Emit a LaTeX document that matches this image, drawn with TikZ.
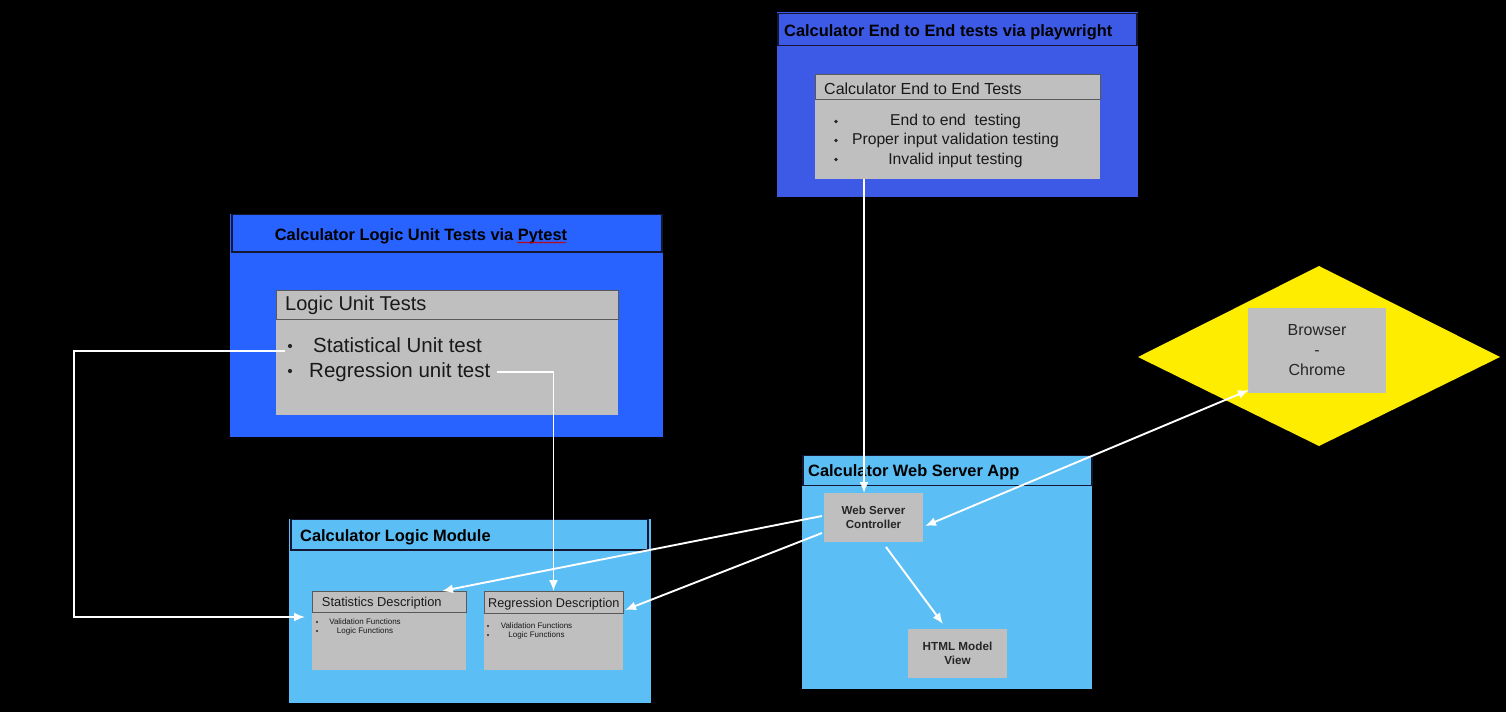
\documentclass[tikz,border=0pt]{standalone}
\usepackage{fontspec}
\setmainfont{Liberation Sans}
\usetikzlibrary{arrows.meta,decorations.pathmorphing}

\definecolor{eeblue}{RGB}{61,90,230}
\definecolor{unitblue}{RGB}{40,98,255}
\definecolor{appblue}{RGB}{91,190,245}
\definecolor{boxgray}{RGB}{191,191,191}
\definecolor{diayellow}{RGB}{255,237,0}
\definecolor{barline}{RGB}{20,22,50}

\tikzset{
  panel/.style={anchor=north west,inner sep=0pt,outer sep=0pt},
  titlebar/.style={panel,draw=barline,line width=1.5pt},
  graybox/.style={panel,fill=boxgray},
  grayhead/.style={panel,fill=boxgray,draw=black!65,line width=0.8pt},
  titletext/.style={anchor=base west,inner sep=0pt,font=\bfseries\fontsize{16.4}{20}\selectfont},
  bodytext/.style={anchor=base west,inner sep=0pt,text=black!90},
  bulletdot/.style={circle,fill=black!85,inner sep=0pt,minimum size=#1},
  bulletdot/.default=3.8pt,
  tip/.style={Latex[length=11pt,width=9pt]},
  wire/.style={white,line width=1.9pt,-{Latex[length=11pt,width=9pt]}},
}

\begin{document}
\begin{tikzpicture}[x=1pt,y=-1pt]
% Hintergrund
\fill[black] (0,0) rectangle (1506,712);
\useasboundingbox (0,0) rectangle (1506,712);

% E2E Tests (oben)
\node[panel,fill=eeblue,minimum width=361pt,minimum height=185pt] (eePanel) at (777,12) {};
\node[titlebar,fill=eeblue,minimum width=359pt,minimum height=32pt] (eeBar) at (778,13.5) {};
\node[titletext] (eeTitle) at (784,36.5) {Calculator End to End tests via playwright};
\node[graybox,minimum width=285pt,minimum height=105pt] (eeBody) at (815,74) {};
\node[grayhead,minimum width=285pt,minimum height=25pt] (eeHead) at (815,74) {};
\node[bodytext,font=\fontsize{16}{19}\selectfont] (eeHeadText) at (824,94) {Calculator End to End Tests};
\node[bulletdot] (eeB1) at (836,121.5) {};
\node[bulletdot] (eeB2) at (836,140.5) {};
\node[bulletdot] (eeB3) at (836,159.5) {};
\node[bodytext,anchor=base,font=\fontsize{15.7}{19}\selectfont] (eeT1) at (955.5,125.7) {End to end\ \ testing};
\node[bodytext,anchor=base,font=\fontsize{15.7}{19}\selectfont] (eeT2) at (955.5,144) {Proper input validation testing};
\node[bodytext,anchor=base,font=\fontsize{15.7}{19}\selectfont] (eeT3) at (955.5,164) {Invalid input testing};

% Unit Tests (links oben)
\node[panel,fill=unitblue,minimum width=433pt,minimum height=223pt] (unitPanel) at (230,214) {};
\node[titlebar,fill=unitblue,minimum width=430pt,minimum height=37.5pt] (unitBar) at (232,214.5) {};
\node[titletext] (unitTitle) at (274.7,240) {Calculator Logic Unit Tests via Pytest};
\draw[red!80!black,line width=0.6pt,decorate,decoration={snake,amplitude=0.6pt,segment length=2.5pt}]
        (517,242.5) -- (566,242.5);
\node[graybox,minimum width=342pt,minimum height=125pt] (unitBody) at (276,290) {};
\node[grayhead,minimum width=342pt,minimum height=29pt] (unitHead) at (276,290) {};
\node[bodytext,font=\fontsize{20}{24}\selectfont] (unitHeadText) at (285,310) {Logic Unit Tests};
\node[bulletdot=4.2pt] (stBullet) at (290,346) {};
\node[bulletdot=4.2pt] (rgBullet) at (290,371) {};
\node[bodytext,font=\fontsize{20.5}{24}\selectfont] (stText) at (313,352) {Statistical Unit test};
\node[bodytext,font=\fontsize{20.5}{24}\selectfont] (rgText) at (309,377) {Regression unit test};

% Logic Module (links unten)
\node[panel,fill=appblue,minimum width=362pt,minimum height=184pt] (modPanel) at (289,519) {};
\node[titlebar,fill=appblue,minimum width=357pt,minimum height=30.5pt] (modBar) at (291,519.5) {};
\node[titletext] (modTitle) at (300,541) {Calculator Logic Module};
\node[graybox,minimum width=154pt,minimum height=79pt] (statBody) at (312,591) {};
\node[grayhead,minimum width=154pt,minimum height=21pt] (statHead) at (312,591) {};
\node[bodytext,font=\fontsize{12.9}{15}\selectfont] (statHeadText) at (321.7,606) {Statistics Description};
\node[bulletdot=2.2pt] (statB1) at (317,622) {};
\node[bulletdot=2.2pt] (statB2) at (317,631) {};
\node[bodytext,anchor=base,font=\fontsize{8}{10}\selectfont] (statT1) at (365,624.5) {Validation Functions};
\node[bodytext,anchor=base,font=\fontsize{8}{10}\selectfont] (statT2) at (365,633) {Logic Functions};
\node[graybox,minimum width=139pt,minimum height=79pt] (regBody) at (484,591) {};
\node[grayhead,minimum width=139pt,minimum height=22pt] (regHead) at (484,591) {};
\node[bodytext,font=\fontsize{12.7}{15}\selectfont] (regHeadText) at (488,607) {Regression Description};
\node[bulletdot=2.2pt] (regB1) at (488,626) {};
\node[bulletdot=2.2pt] (regB2) at (488,635) {};
\node[bodytext,anchor=base,font=\fontsize{8}{10}\selectfont] (regT1) at (536.5,628.5) {Validation Functions};
\node[bodytext,anchor=base,font=\fontsize{8}{10}\selectfont] (regT2) at (536.5,637.5) {Logic Functions};

% Web Server App (rechts unten)
\node[panel,fill=appblue,minimum width=290pt,minimum height=234pt] (webPanel) at (802,455) {};
\node[titlebar,fill=appblue,minimum width=289pt,minimum height=30pt] (webBar) at (803,455.5) {};
\node[titletext] (webTitle) at (808,476) {Calculator Web Server App};
\node[graybox,minimum width=99pt,minimum height=49pt,align=center,
      font=\bfseries\fontsize{11.6}{13.5}\selectfont,text=black!85] (ctrl) at (824,493) {Web Server\\Controller};
\node[graybox,minimum width=99pt,minimum height=49pt,align=center,
      font=\bfseries\fontsize{11.7}{13.5}\selectfont,text=black!85] (html) at (908,629) {HTML Model\\View};

% Browser (Raute)
\coordinate (diaW) at (1138,357);
\coordinate (diaN) at (1319,266);
\coordinate (diaE) at (1500,357);
\coordinate (diaS) at (1319,446);
\fill[diayellow] (diaW) -- (diaN) -- (diaE) -- (diaS) -- cycle;
\node[graybox,minimum width=138pt,minimum height=85pt,align=center,
      font=\fontsize{16}{20}\selectfont,text=black!85] (browser) at (1248,308) {Browser\\-\\Chrome};

% Verbindungen
\coordinate (stStart) at (285,351);
\coordinate (loopCorner) at (74,617);
\coordinate (statIn) at (305,617);
\draw[wire,line width=1.7pt] (stStart) -| (loopCorner) -- (statIn);
\coordinate (rgStart) at (497,372);
\draw[wire,line width=1.7pt] (rgStart) -| (regHead.north);
\coordinate (eeDrop) at (864,179);
\draw[wire,line width=1.7pt] (eeDrop) -- (eeDrop |- ctrl.north);
\draw[wire] ([xshift=-2pt,yshift=1.5pt]ctrl.west) -- ([xshift=-24pt]statHead.north east);
\draw[wire] ([xshift=-2pt,yshift=-15.5pt]ctrl.west) -- ([xshift=2pt,yshift=3pt]regHead.south east);
\draw[wire,{Latex[length=11pt,width=9pt]}-{Latex[length=11pt,width=9pt]}]
        ([xshift=2pt,yshift=-8.5pt]ctrl.east) -- ([xshift=1pt,yshift=3pt]browser.south west);
\draw[wire] ([xshift=12.5pt,yshift=-5pt]ctrl.south) -- ([xshift=-14.5pt,yshift=5pt]html.north);
\end{tikzpicture}
\end{document}
